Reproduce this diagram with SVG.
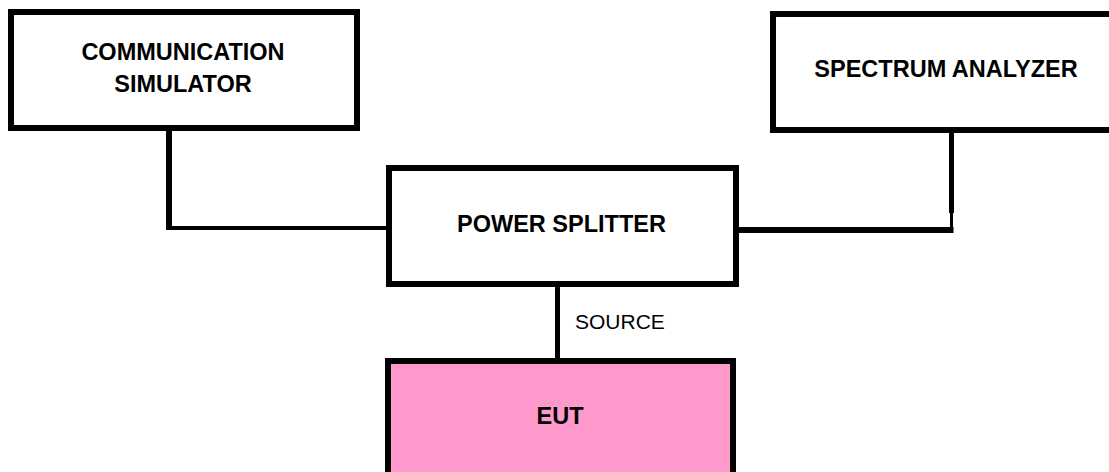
<svg xmlns="http://www.w3.org/2000/svg" width="1109" height="472" viewBox="0 0 1109 472">
<style>
.box{fill:#fff;stroke:#000;stroke-width:6}
.eut{fill:#ff99cc;stroke:#000;stroke-width:6}
.lbl{font-family:"Liberation Sans",Arial,sans-serif;font-weight:bold;font-size:23.5px;fill:#000;text-anchor:middle}
.src{font-family:"Liberation Sans",Arial,sans-serif;font-size:21px;fill:#000}
.wire{fill:none;stroke:#000;stroke-linecap:butt}
</style>
<rect width="1109" height="472" fill="#fff"/>
<g id="connectors">
<line class="wire" x1="169" y1="131" x2="169" y2="230" stroke-width="6"/>
<line class="wire" x1="166" y1="228" x2="387" y2="228" stroke-width="4"/>
<line class="wire" x1="739" y1="230" x2="953.5" y2="230" stroke-width="6"/>
<line class="wire" x1="951.5" y1="133" x2="951.5" y2="213" stroke-width="5"/>
<line class="wire" x1="951.5" y1="213" x2="951.5" y2="233" stroke-width="3"/>
<line class="wire" x1="557.5" y1="287" x2="557.5" y2="358" stroke-width="5"/>
</g>
<g id="comm-sim">
<rect class="box" x="11" y="12" width="346" height="116"/>
<text class="lbl" x="183" y="60">COMMUNICATION</text>
<text class="lbl" x="183" y="92">SIMULATOR</text>
</g>
<g id="spectrum-analyzer">
<rect class="box" x="773" y="14" width="346" height="116"/>
<text class="lbl" x="946" y="77">SPECTRUM ANALYZER</text>
</g>
<g id="power-splitter">
<rect class="box" x="389" y="168" width="347" height="116"/>
<text class="lbl" x="561.5" y="232">POWER SPLITTER</text>
</g>
<g id="source-label">
<text class="src" x="575" y="329">SOURCE</text>
</g>
<g id="eut">
<rect class="eut" x="388" y="361" width="345" height="130"/>
<text class="lbl" x="560" y="424">EUT</text>
</g>
</svg>
